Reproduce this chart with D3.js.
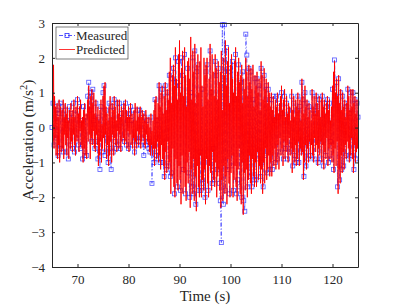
<!DOCTYPE html>
<html>
<head>
<meta charset="utf-8">
<script src="https://cdn.jsdelivr.net/npm/d3@7"></script>
<style>
    body { margin: 0; background: #fff; }
</style>
</head>
<body>
<div id="graph"></div>
<script>
const serif = "Liberation Serif, serif";

// time axis
const tStart = 65;
const predStep = 0.1;
const measStep = 0.2;
const xTicks = [70, 80, 90, 100, 110, 120];
const yTicks = [-4, -3, -2, -1, 0, 1, 2, 3];
const seriesNames = ["Measured", "Predicted"];

// measured acceleration, one sample every 0.2 s from 65 s
const measured = [
    0.0, 0.7, -0.5, 0.6, -0.3,   0.5, -0.8, 0.4, 0.7, -0.6,   0.6, -0.7, 0.3, 0.5, -0.7,
    0.2, -0.9, 0.6, -0.5, 0.4,   -0.6, 0.7, -0.7, 0.5, -0.3,  0.8, -0.5, 0.6, -0.6, 0.2,
    -0.9, 0.6, -0.8, 0.3, -0.8,  0.9, 1.3, 0.5, 1.0, -0.4,    1.1, 0.2, -0.6, 0.7, -0.4,
    -0.9, 0.3, -1.2, 0.6, -0.7,  1.0, 1.2, -0.8, 0.5, -0.3,   -1.0, 0.7, -0.6, -1.2, 0.6,
    -0.7, 0.8, -0.4, -0.6, 0.7,  -0.5, 0.7, -0.6, 0.4, -0.3,  0.6, -0.4, 0.7, -0.5, 0.2,
    -0.6, 0.4, 0.6, 0.2, -0.5,   0.5, -0.7, -0.3, -0.5, 0.5,  -0.4, 0.5, -0.5, -0.3, 0.4,
    -0.8, 0.3, -0.5, 0.2, -0.4,  -0.6, -0.7, 0.3, -1.6, -0.5, -1.0, 0.8, -0.8, 0.2, -0.9,
    1.2, -1.0, 0.9, 1.1, -1.0,   -1.4, 1.2, -1.2, 1.0, -1.1,  1.5, -1.4, -1.3, 1.4, 1.7,
    -1.9, 2.0, 1.3, -1.7, 1.9,   1.2, -1.8, 2.0, 1.5, -1.2,   2.1, -1.9, 0.7, 1.7, -1.3,
    -2.0, 1.0, -1.7, 2.0, -1.9,  2.2, -2.2, 1.6, 1.8, -1.8,   -0.7, -1.8, 1.1, -1.6, -1.0,
    -2.0, 1.6, 1.8, -1.8, -1.0,  2.2, 1.0, -1.6, -0.6, -1.5,  1.9, 1.5, -1.2, 1.7, -1.6,
    -2.1, -3.3, 2.95, -2.2, 2.95, -1.8, 2.3, -1.2, 1.6, -1.9, 1.7, -1.1, 1.9, -1.8, 0.8,
    2.1, -1.9, -1.5, 1.8, -1.7,  1.3, -2.0, 1.6, -2.1, -2.4,  2.68, 2.08, -1.7, 1.7, -1.4,
    1.6, -1.7, 0.8, -1.5, 1.4,   -1.5, 1.4, -0.9, 1.2, -1.4,  1.7, -1.0, -1.7, 1.5, -0.8,
    1.2, -1.3, 1.1, 0.8, -1.2,   0.8, -1.2, 0.9, 0.2, -1.0,   0.9, -0.9, 0.3, 0.7, -0.7,
    1.0, 0.4, -0.9, 0.9, -0.6,   0.7, -0.9, 0.5, -0.7, -0.5,  0.9, -1.1, 0.7, -0.8, -1.0,
    0.5, 0.9, -1.0, 0.6, -0.7,   1.3, 0.8, -1.4, 1.0, -1.1,   0.7, -0.9, 0.6, -0.8, -0.4,
    1.0, 0.5, -0.9, 0.4, 0.9,    0.6, -1.0, 0.8, -0.3, -0.9,  0.9, -1.1, 0.7, -0.8, 0.6,
    0.8, -1.0, 0.7, -0.4, -0.9,  1.1, -1.2, 1.94, 0.9, 1.3,   -1.7, 1.4, -1.5, 1.0, -1.2,
    0.9, -1.1, 0.7, -0.8, 0.6,   1.1, -0.9, 0.4, 1.0, -0.8,   1.0, -1.2, 0.8, -0.9, 0.7,
    0.3
];

// predicted acceleration, one sample every 0.1 s from 65 s
const predicted = [
    0.2, 1.1, -0.4, 1.8, -0.6, 0.9, -0.3, 0.6, -0.8, 0.4,
    0.7, -0.9, 0.3, -0.5, 0.8, -1.0, 0.2, 0.6, -0.7, 0.1,
    0.5, -0.6, 0.8, -0.9, 0.3, -0.2, 0.7, -0.5, 0.4, -0.8,
    0.6, -0.3, 0.2, -0.9, 0.5, 0.1, -0.6, 0.7, -0.4, 0.3,
    -0.7, 0.5, -0.2, 0.8, -0.5, 0.3, -0.8, 0.6, 0.0, -0.4,
    0.9, -0.3, 0.4, -0.7, 0.6, -0.1, 0.8, -0.5, 0.2, -0.6,
    0.3, -1.0, 0.5, -0.6, 0.7, -0.8, 0.1, 0.4, -0.9, 0.2,
    0.8, -0.4, 1.2, -0.2, 0.6, -0.9, 0.9, -0.3, 1.1, -0.5,
    0.7, -0.1, 1.0, -0.6, 0.4, -0.7, 0.8, -0.2, 0.3, -0.5,
    0.6, -1.1, 0.2, -0.8, 0.5, -0.4, 0.8, -1.0, 0.1, -0.6,
    0.9, -0.3, 1.2, -0.7, 1.3, -0.2, 0.6, -0.9, 0.4, -0.5,
    0.2, -1.1, 0.6, -0.8, 0.9, -0.4, 0.3, -1.0, 0.7, -0.2,
    0.5, -0.8, 0.9, -0.3, 0.6, -0.5, 0.2, -0.7, 0.8, -0.1,
    0.4, -0.6, 0.8, -0.2, 0.3, -0.7, 0.6, -0.4, 0.1, 0.5,
    -0.3, 0.7, -0.5, 0.2, 0.8, -0.4, 0.5, -0.6, 0.3, -0.1,
    0.6, -0.7, 0.3, -0.2, 0.7, -0.5, 0.1, 0.4, -0.6, 0.2,
    -0.3, 0.5, -0.8, 0.7, -0.4, 0.2, -0.6, 0.6, -0.1, 0.3,
    -0.5, 0.4, -0.2, 0.6, -0.6, 0.3, -0.4, 0.5, 0.0, -0.3,
    0.4, -0.5, 0.2, -0.6, 0.5, -0.2, 0.3, -0.4, 0.1, -0.5,
    0.3, -0.7, 0.0, -0.8, 0.4, -0.5, -0.1, -0.8, 0.2, -0.6,
    0.5, -1.1, 0.8, -0.6, 0.9, -0.9, 0.3, -0.4, 0.7, -1.0,
    1.3, -0.8, 0.6, -1.2, 1.0, -0.5, 1.2, -0.9, 0.4, -1.1,
    0.9, -1.5, 1.3, -0.7, 0.5, -1.3, 1.1, -0.4, 0.8, -1.2,
    1.6, -1.0, 2.0, -1.9, 0.7, -1.4, 1.5, -0.6, 1.8, -1.7,
    1.2, -2.0, 2.3, -0.9, 1.4, -1.6, 0.8, -1.8, 2.1, -1.1,
    2.5, -1.5, 1.0, -2.2, 1.7, -0.8, 2.2, -1.9, 0.9, -1.3,
    2.3, -1.7, 1.5, -2.1, 0.6, -1.0, 1.9, -1.6, 2.0, -0.7,
    1.4, -2.3, 2.6, -1.2, 0.8, -1.9, 2.2, -0.9, 1.6, -2.1,
    2.4, -1.4, 0.7, -2.4, 1.8, -1.1, 2.1, -1.7, 1.0, -2.0,
    1.9, -0.8, 2.3, -2.0, 1.2, -1.5, 0.6, -1.8, 2.0, -1.2,
    1.5, -2.2, 1.8, -0.9, 2.0, -1.6, 0.8, -2.0, 1.4, -1.1,
    2.4, -1.3, 1.1, -1.8, 2.1, -0.7, 1.6, -1.5, 0.9, -1.7,
    2.1, -1.0, 1.7, -2.0, 0.8, -1.4, 1.9, -1.2, 1.3, -1.8,
    1.6, -2.3, 2.2, -1.5, 0.5, -2.1, 2.0, -1.1, 1.5, -1.9,
    2.5, -1.4, 1.2, -2.2, 1.9, -0.9, 2.3, -1.6, 0.7, -2.0,
    1.8, -1.3, 2.1, -0.8, 1.4, -2.0, 1.0, -1.5, 1.9, -1.1,
    2.3, -1.7, 0.9, -2.1, 1.6, -1.2, 2.0, -0.6, 1.3, -1.9,
    1.5, -2.2, 1.8, -1.0, 0.7, -2.5, 1.4, -1.3, 1.1, -1.8,
    2.0, -1.2, 1.6, -2.0, 0.9, -1.5, 1.8, -0.8, 1.3, -1.6,
    1.7, -1.9, 1.1, -0.9, 1.8, -1.4, 0.6, -1.7, 1.5, -1.0,
    1.2, -1.7, 1.6, -0.7, 1.0, -1.5, 1.4, -1.1, 0.5, -1.6,
    1.9, -1.2, 1.5, -1.9, 0.8, -1.0, 1.7, -1.6, 1.1, -0.6,
    1.4, -1.5, 0.7, -1.2, 1.3, -0.8, 1.0, -1.4, 0.6, -1.0,
    1.0, -1.4, 0.5, -0.8, 0.9, -1.1, 0.3, -0.6, 0.8, -1.2,
    0.6, -1.0, 1.0, -0.5, 0.4, -1.2, 0.7, -0.3, 0.9, -0.8,
    1.2, -0.6, 0.5, -1.1, 0.8, -0.4, 1.1, -0.9, 0.3, -0.7,
    0.9, -0.5, 0.4, -1.0, 0.7, -0.3, 0.6, -0.8, 0.2, -0.6,
    1.1, -1.3, 0.5, -0.7, 0.9, -1.0, 0.3, -0.5, 0.8, -1.1,
    0.6, -0.9, 1.0, -0.4, 0.5, -1.1, 0.8, -0.6, 0.2, -0.8,
    1.4, -0.7, 0.9, -1.5, 0.4, -1.0, 1.2, -0.5, 0.6, -1.2,
    0.8, -0.6, 0.3, -1.0, 0.7, -0.4, 0.5, -0.9, 0.2, -0.5,
    1.1, -0.8, 0.6, -1.0, 0.9, -0.3, 0.4, -0.7, 1.0, -0.5,
    0.7, -1.1, 0.5, -0.6, 0.9, -0.8, 0.3, -0.4, 0.8, -1.0,
    1.0, -0.5, 0.6, -1.2, 0.8, -0.7, 0.4, -0.9, 0.7, -0.3,
    0.9, -1.1, 0.5, -0.6, 0.8, -0.9, 0.2, -0.5, 0.6, -1.0,
    1.2, -0.8, 1.6, -1.3, 1.9, -0.6, 1.0, -1.1, 1.4, -0.4,
    0.9, -1.9, 1.5, -1.2, 0.7, -1.6, 1.1, -0.8, 0.5, -1.3,
    1.0, -0.7, 0.6, -1.2, 0.8, -0.5, 0.3, -0.9, 0.7, -0.4,
    1.2, -0.6, 0.9, -1.0, 0.5, -0.8, 1.1, -0.3, 0.6, -0.9,
    1.1, -1.3, 0.7, -0.5, 0.9, -1.0, 0.4, -0.7, 0.8, -0.6,
    0.3
];

const margin = { top: 23, right: 38, bottom: 39, left: 52 },
    width = 396 - margin.left - margin.right,
    height = 306 - margin.top - margin.bottom;

const svg = d3
    .select("#graph")
    .append("svg")
    .attr("width", 396)
    .attr("height", 306)
    .append("g")
    .attr("transform", `translate(${margin.left},${margin.top})`);

const x = d3.scaleLinear().domain([65, 125]).range([0, width]);
const y = d3.scaleLinear().domain([-4, 3]).range([height, 0]);

svg.append("clipPath")
    .attr("id", "clip")
    .append("rect")
    .attr("width", width)
    .attr("height", height);

const measLine = d3.line()
    .x((d, i) => x(tStart + i * measStep))
    .y((d) => y(d));
const predLine = d3.line()
    .x((d, i) => x(tStart + i * predStep))
    .y((d) => y(d));

// measured first, predicted drawn over it
svg.append("path")
    .datum(measured)
    .attr("clip-path", "url(#clip)")
    .attr("fill", "none")
    .attr("stroke", "#2a2aff")
    .attr("stroke-opacity", 0.8)
    .attr("stroke-width", 0.8)
    .attr("stroke-dasharray", "4,2,1,2")
    .attr("d", measLine);

svg.append("g")
    .selectAll("rect")
    .data(measured)
    .enter()
    .append("rect")
    .attr("x", (d, i) => x(tStart + i * measStep) - 2)
    .attr("y", (d) => y(d) - 2)
    .attr("width", 4)
    .attr("height", 4)
    .attr("fill", "none")
    .attr("stroke", "#2a2aff")
    .attr("stroke-opacity", 0.8)
    .attr("stroke-width", 0.8);

svg.append("path")
    .datum(predicted)
    .attr("clip-path", "url(#clip)")
    .attr("fill", "none")
    .attr("stroke", "#ff0000")
    .attr("stroke-width", 0.9)
    .attr("d", predLine);

// axes with inward ticks on all sides
const axisStyle = (g) => {
    g.attr("font-family", serif);
    g.select(".domain").attr("stroke", "#262626");
    g.selectAll(".tick line").attr("stroke", "#262626");
    g.selectAll("text")
        .attr("font-family", serif)
        .attr("font-size", 13)
        .attr("fill", "#262626");
};
svg.append("g")
    .attr("transform", `translate(0,${height})`)
    .call(d3.axisBottom(x).tickValues(xTicks).tickSize(-3).tickSizeOuter(0).tickPadding(8))
    .call(axisStyle);
svg.append("g")
    .call(d3.axisLeft(y).tickValues(yTicks).tickSize(-3).tickSizeOuter(0).tickPadding(7)
        .tickFormat((d) => (d < 0 ? "\u2212" + Math.abs(d) : d)))
    .call(axisStyle);
svg.append("g")
    .call(d3.axisTop(x).tickValues(xTicks).tickSize(-3).tickSizeOuter(0).tickFormat(""))
    .call(axisStyle);
svg.append("g")
    .attr("transform", `translate(${width},0)`)
    .call(d3.axisRight(y).tickValues(yTicks).tickSize(-3).tickSizeOuter(0).tickFormat(""))
    .call(axisStyle);

// labels
svg.append("text")
    .attr("x", width / 2)
    .attr("y", height + 34)
    .attr("text-anchor", "middle")
    .attr("fill", "#262626")
    .attr("font-family", serif)
    .attr("font-size", 15)
    .text("Time (s)");

const yLabel = svg.append("text")
    .attr("transform", `translate(-19,${height / 2 - 5}) rotate(-90)`)
    .attr("text-anchor", "middle")
    .attr("fill", "#262626")
    .attr("font-family", serif)
    .attr("font-size", 15.5);
yLabel.append("tspan").text("Acceleration (m/s");
yLabel.append("tspan").attr("dy", -6).attr("font-size", 10.5).text("2");
yLabel.append("tspan").attr("dy", 6).text(")");

// legend
const legend = svg.append("g").attr("transform", "translate(4,4)");
legend.append("rect")
    .attr("width", 72)
    .attr("height", 32)
    .attr("fill", "#fff")
    .attr("stroke", "#262626")
    .attr("stroke-width", 0.6);
seriesNames.forEach((name, i) => {
    const ly = 8.5 + i * 14;
    const isMeas = i === 0;
    legend.append("line")
        .attr("x1", 3).attr("x2", 19)
        .attr("y1", ly).attr("y2", ly)
        .attr("stroke", isMeas ? "#2a2aff" : "#ff0000")
        .attr("stroke-width", 0.8)
        .attr("stroke-dasharray", isMeas ? "4,2,1,2" : null);
    if (isMeas) {
        legend.append("rect")
            .attr("x", 9).attr("y", ly - 2)
            .attr("width", 4).attr("height", 4)
            .attr("fill", "none")
            .attr("stroke", "#2a2aff")
            .attr("stroke-width", 0.8);
    }
    legend.append("text")
        .attr("x", 20)
        .attr("y", ly + 4.5)
        .attr("fill", "#262626")
        .attr("font-family", serif)
        .attr("font-size", 13)
        .text(name);
});
</script>
</body>
</html>
